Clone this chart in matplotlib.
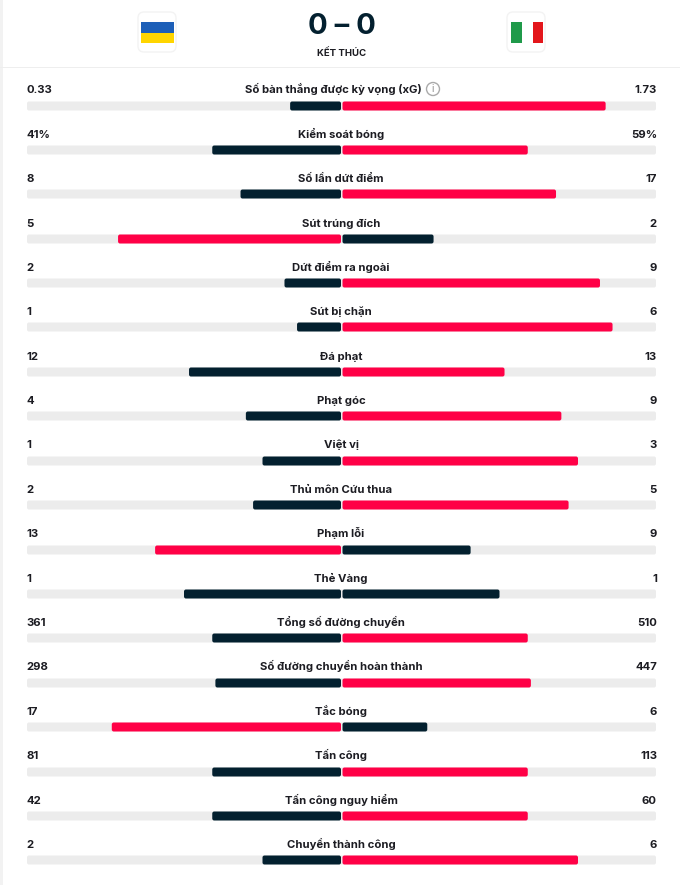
import matplotlib
matplotlib.use("Agg")
import matplotlib.pyplot as plt
from matplotlib.patches import FancyBboxPatch, Rectangle, Circle

labels = ["Số bàn thắng được kỳ vọng (xG)", "Kiểm soát bóng", "Số lần dứt điểm", "Sút trúng đích",
          "Dứt điểm ra ngoài", "Sút bị chặn", "Đá phạt", "Phạt góc", "Việt vị", "Thủ môn Cứu thua",
          "Phạm lỗi", "Thẻ Vàng", "Tổng số đường chuyền", "Số đường chuyền hoàn thành", "Tắc bóng",
          "Tấn công", "Tấn công nguy hiểm", "Chuyền thành công"]
home = [0.33, 41, 8, 5, 2, 1, 12, 4, 1, 2, 13, 1, 361, 298, 17, 81, 42, 2]
away = [1.73, 59, 17, 2, 9, 6, 13, 9, 3, 5, 9, 1, 510, 447, 6, 113, 60, 6]
home_text = ["0.33", "41%", "8", "5", "2", "1", "12", "4", "1", "2", "13", "1", "361", "298", "17", "81", "42", "2"]
away_text = ["1.73", "59%", "17", "2", "9", "6", "13", "9", "3", "5", "9", "1", "510", "447", "6", "113", "60", "6"]
# home share of the bar in percent (not quite home/(home+away))
home_share = [16.2, 41, 32, 71, 18, 14, 48.4, 30.3, 25, 28, 59.2, 50, 41, 40, 73, 41, 41, 25]
label_y = [89, 134, 178, 223, 267, 311, 356, 400, 444, 489, 533, 578, 622, 666, 711, 755, 800, 844]
bar_y = [106, 150, 194, 239, 283, 327, 372, 416, 461, 505, 550, 594, 638, 683, 727, 772, 816, 860]

DARK = "#03202f"
RED = "#ff0046"
TRACK = "#ececec"
TEXT = "#1c1c22"
FONT = "Inter"

fig = plt.figure(figsize=(6.8, 8.85), dpi=100)
ax = fig.add_axes([0, 0, 1, 1])
ax.set_xlim(0, 680)
ax.set_ylim(885, 0)
ax.axis("off")


def rbar(x0, x1, y, color, h=9):
    p = FancyBboxPatch((x0 + 1.5, y - h / 2 + 1.5), x1 - x0 - 3, h - 3,
                       boxstyle="round,pad=1.5,rounding_size=2", fc=color, ec="none", zorder=3)
    ax.add_patch(p)


def bold(x, y, s, ha, size=8.15):
    # baseline so accents don't shift the rows up and down
    ax.text(x, y + 4.3, s, ha=ha, va="baseline", fontsize=size, fontweight="bold", color=TEXT, family=FONT)


# page borders
ax.add_patch(Rectangle((0, 0), 2.5, 885, fc="#f2f2f2", ec="none"))
ax.add_patch(Rectangle((0, 66.5), 680, 1.5, fc="#eeeeee", ec="none"))

# flags
for x in [137, 506]:
    ax.add_patch(FancyBboxPatch((x + 4, 15), 32, 34, boxstyle="round,pad=3,rounding_size=6",
                                fc="white", ec="#f3f3f3", lw=1))
ax.add_patch(Rectangle((141, 21.5), 33, 11, fc="#1d5fb8", ec="none", zorder=2))
ax.add_patch(Rectangle((141, 32.5), 33, 10.5, fc="#ffd500", ec="none", zorder=2))
ax.add_patch(Rectangle((510.5, 21.5), 11, 21.5, fc="#1f9a4a", ec="none", zorder=2))
ax.add_patch(Rectangle((532.5, 21.5), 10.5, 21.5, fc="#e3161b", ec="none", zorder=2))

# score
ax.text(342, 34, "0 – 0", ha="center", va="baseline", fontsize=21, fontweight="bold", color=DARK, family=FONT)
ax.text(342, 56.5, "KẾT THÚC", ha="center", va="baseline", fontsize=6.9, fontweight="bold", color=TEXT, family=FONT)

for i in range(len(labels)):
    bold(26.5, label_y[i], home_text[i], "left")
    bold(657, label_y[i], away_text[i], "right")
    # first label leaves room for the info icon
    bold(333 if i == 0 else 341, label_y[i], labels[i], "center")

    y = bar_y[i]
    rbar(27, 656, y, TRACK)
    left = home_share[i] / 100 * 314
    right = 314 - left
    rbar(341 - left, 341, y, RED if home[i] > away[i] else DARK)
    rbar(342.5, 342.5 + right, y, RED if away[i] > home[i] else DARK)

# xG info icon
ax.add_patch(Circle((433, 89), 6.5, fc="white", ec="#aaaaaa", lw=1))
ax.text(433, 92.5, "i", ha="center", va="baseline", fontsize=7, color="#888888", family=FONT)

fig.savefig("out.png", dpi=100)
